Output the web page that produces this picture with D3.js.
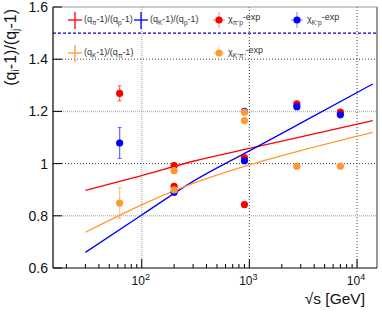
<!DOCTYPE html>
<meta charset="utf-8">
<head>
    <style>
        body { margin: 0; background: #fff; }
        svg { font-family: 'Liberation Sans', Arial, sans-serif; }
        .grid-dark { stroke: #444; stroke-dasharray: 1,2; stroke-width: 1; }
        .grid-light { stroke: #bbb; stroke-dasharray: 1,1; stroke-width: 1.5; }
    </style>
</head>
<body>
    <svg width="382" height="312"></svg>
    <script src="https://d3js.org/d3.v7.min.js"></script>
    <script type="text/javascript">

        // model curves (sqrt s in GeV, ratio)
        var curveS = [30, 100, 300, 1000, 3000, 14000];
        var piOverP = [0.897, 0.954, 1.009, 1.058, 1.102, 1.165];
        var kOverP = [0.660, 0.803, 0.932, 1.049, 1.155, 1.305];
        var kOverPi = [0.737, 0.842, 0.924, 0.995, 1.050, 1.120];

        // chi-exp points
        var chiPiP_s = [62.4, 200, 200, 900, 900, 2760, 7000];
        var chiPiP_v = [1.269, 0.992, 0.913, 1.022, 0.843, 1.229, 1.197];
        var chiPiP_e = [0.029, 0.01, 0.01, 0.012, 0.01, 0.008, 0.008];

        var chiKP_s = [62.4, 200, 900, 900, 2760, 7000];
        var chiKP_v = [1.079, 0.890, 1.200, 1.011, 1.218, 1.187];
        var chiKP_e = [0.059, 0.01, 0.01, 0.01, 0.008, 0.008];

        var chiKPi_s = [62.4, 200, 200, 900, 900, 2760, 7000];
        var chiKPi_v = [0.849, 0.973, 0.899, 1.197, 1.165, 0.990, 0.990];
        var chiKPi_e = [0.059, 0.01, 0.01, 0.01, 0.01, 0.006, 0.006];

        var yTicks = [0.6, 0.8, 1, 1.2, 1.4, 1.6];
        var xDecades = [100, 1000, 10000];

        var red = "#ff0000", blue = "#0000ff", orange = "#ff9933";

        var svg = d3.select("svg");

        var x = d3.scaleLog().domain([15, 15000]).range([53, 376]);
        var y = d3.scaleLinear().domain([0.6, 1.6]).range([268, 7]);

        // grid
        var grid = svg.append("g");
        [1.2, 0.8].forEach(function (v) {
            grid.append("line").attr("class", "grid-light")
                .attr("x1", 53).attr("x2", 376).attr("y1", y(v)).attr("y2", y(v));
        });
        [1, 1.4].forEach(function (v) {
            grid.append("line").attr("class", "grid-dark")
                .attr("x1", 53).attr("x2", 376).attr("y1", y(v)).attr("y2", y(v));
        });
        grid.append("line").attr("class", "grid-light")
            .attr("x1", x(100)).attr("x2", x(100)).attr("y1", 7).attr("y2", 268);
        [1000, 10000].forEach(function (v) {
            grid.append("line").attr("class", "grid-dark")
                .attr("x1", x(v)).attr("x2", x(v)).attr("y1", 7).attr("y2", 268);
        });

        // dashed line at 1.5
        svg.append("line")
            .attr("x1", 53).attr("x2", 376).attr("y1", y(1.5)).attr("y2", y(1.5))
            .attr("stroke", "#0000cc").attr("stroke-width", 1.2).attr("stroke-dasharray", "3,2");

        // frame
        svg.append("line").attr("x1", 53).attr("x2", 377).attr("y1", 7).attr("y2", 7)
            .attr("stroke", "#999").attr("stroke-width", 1.2);
        svg.append("line").attr("x1", 377).attr("x2", 377).attr("y1", 7).attr("y2", 268)
            .attr("stroke", "#999").attr("stroke-width", 2);
        svg.append("line").attr("x1", 53).attr("x2", 377).attr("y1", 268).attr("y2", 268)
            .attr("stroke", "#000").attr("stroke-width", 1.2);
        svg.append("line").attr("x1", 53).attr("x2", 53).attr("y1", 7).attr("y2", 268)
            .attr("stroke", "#000").attr("stroke-width", 1.2);

        // y ticks + labels
        yTicks.forEach(function (v) {
            svg.append("line").attr("x1", 53).attr("x2", 62).attr("y1", y(v)).attr("y2", y(v))
                .attr("stroke", "#000");
            svg.append("text").attr("x", 48).attr("y", y(v) + 5)
                .attr("text-anchor", "end").attr("font-size", 14).attr("fill", "#111")
                .text(v === 1 ? "1" : d3.format(".1f")(v));
        });

        // x ticks (log minor)
        var minor = [];
        for (var dec = 10; dec <= 10000; dec *= 10) {
            for (var k = 1; k <= 9; k++) {
                var t = k * dec;
                if (t >= 15 && t <= 15000) minor.push(t);
            }
        }
        minor.forEach(function (t) {
            var major = xDecades.indexOf(t) >= 0;
            svg.append("line").attr("x1", x(t)).attr("x2", x(t))
                .attr("y1", 268).attr("y2", major ? 259 : 264)
                .attr("stroke", "#000");
        });
        xDecades.forEach(function (t, i) {
            var lab = svg.append("text").attr("x", x(t) - 1).attr("y", 285)
                .attr("text-anchor", "middle").attr("font-size", 12).attr("fill", "#111");
            lab.append("tspan").text("10");
            lab.append("tspan").attr("dy", -5).attr("font-size", 9).text(i + 2);
        });

        // axis titles
        svg.append("text").attr("x", 365).attr("y", 304)
            .attr("text-anchor", "end").attr("font-size", 15.5).attr("fill", "#111")
            .text("\u221As [GeV]");

        var yt = svg.append("text")
            .attr("transform", "translate(16,9) rotate(-90)")
            .attr("text-anchor", "end").attr("font-size", 16).attr("fill", "#111");
        yt.append("tspan").text("(q");
        yt.append("tspan").attr("font-size", 10.5).attr("dy", 3).text("i");
        yt.append("tspan").attr("dy", -3).text("-1)/(q");
        yt.append("tspan").attr("font-size", 10.5).attr("dy", 3).text("j");
        yt.append("tspan").attr("dy", -3).text("-1)");

        // model curves
        var line = d3.line()
            .x(function (d) { return x(d[0]); })
            .y(function (d) { return y(d[1]); })
            .curve(d3.curveMonotoneX);

        [[piOverP, red], [kOverP, blue], [kOverPi, orange]].forEach(function (c) {
            svg.append("path")
                .datum(curveS.map(function (s, i) { return [s, c[0][i]]; }))
                .attr("fill", "none").attr("stroke", c[1]).attr("stroke-width", 1.3)
                .attr("d", line);
        });

        // points with error bars
        function drawPoints(sArr, vArr, eArr, col) {
            var g = svg.append("g");
            sArr.forEach(function (s, i) {
                var cx = x(s), cy = y(vArr[i]);
                var y0 = y(vArr[i] - eArr[i]), y1 = y(vArr[i] + eArr[i]);
                g.append("line").attr("x1", cx).attr("x2", cx).attr("y1", y0).attr("y2", y1)
                    .attr("stroke", col).attr("stroke-opacity", 0.6).attr("stroke-width", 1.2);
                [y0, y1].forEach(function (yy) {
                    g.append("line").attr("x1", cx - 2).attr("x2", cx + 2).attr("y1", yy).attr("y2", yy)
                        .attr("stroke", col).attr("stroke-opacity", 0.6).attr("stroke-width", 1);
                });
                g.append("circle").attr("cx", cx).attr("cy", cy).attr("r", 3.6).attr("fill", col);
            });
        }
        drawPoints(chiPiP_s, chiPiP_v, chiPiP_e, red);
        drawPoints(chiKP_s, chiKP_v, chiKP_e, blue);
        drawPoints(chiKPi_s, chiKPi_v, chiKPi_e, orange);

        // legend
        var leg = svg.append("g").attr("font-size", 9).attr("fill", "#333");

        function crossEntry(cx, cy, col) {
            leg.append("line").attr("x1", cx - 7).attr("x2", cx + 7).attr("y1", cy).attr("y2", cy)
                .attr("stroke", col).attr("stroke-width", 1.3);
            leg.append("line").attr("x1", cx).attr("x2", cx).attr("y1", cy - 8).attr("y2", cy + 9)
                .attr("stroke", col).attr("stroke-width", 1.3);
        }
        function markerEntry(cx, cy, col) {
            leg.append("line").attr("x1", cx - 6).attr("x2", cx + 6).attr("y1", cy).attr("y2", cy)
                .attr("stroke", col).attr("stroke-opacity", 0.5);
            leg.append("line").attr("x1", cx).attr("x2", cx).attr("y1", cy - 8).attr("y2", cy + 8)
                .attr("stroke", col).attr("stroke-opacity", 0.5);
            leg.append("circle").attr("cx", cx).attr("cy", cy).attr("r", 3.6).attr("fill", col);
        }
        function ratioText(tx, ty, a, b) {
            var t = leg.append("text").attr("x", tx).attr("y", ty);
            t.append("tspan").text("(q");
            t.append("tspan").attr("font-size", 6.5).attr("dy", 2.5).text(a);
            t.append("tspan").attr("dy", -2.5).text("-1)/(q");
            t.append("tspan").attr("font-size", 6.5).attr("dy", 2.5).text(b);
            t.append("tspan").attr("dy", -2.5).text("-1)");
        }
        function chiText(tx, ty, sub) {
            var t = leg.append("text").attr("x", tx).attr("y", ty);
            t.append("tspan").text("\u03C7");
            t.append("tspan").attr("font-size", 6.5).attr("dy", 3).text(sub);
            t.append("tspan").attr("dy", -5).text("-exp");
        }

        crossEntry(75, 20, red);
        ratioText(84, 22, "\u03C0", "p");
        crossEntry(141, 20, blue);
        ratioText(150, 22, "K", "p");
        markerEntry(219, 20, red);
        chiText(228, 22, "\u03C0\u207Ap");
        markerEntry(297, 20, blue);
        chiText(307, 22, "K\u207Ap");

        crossEntry(75, 53, orange);
        ratioText(84, 55, "K", "\u03C0");
        markerEntry(219, 53, orange);
        chiText(228, 55, "K\u207A\u03C0\u207A");

    </script>
</body>
